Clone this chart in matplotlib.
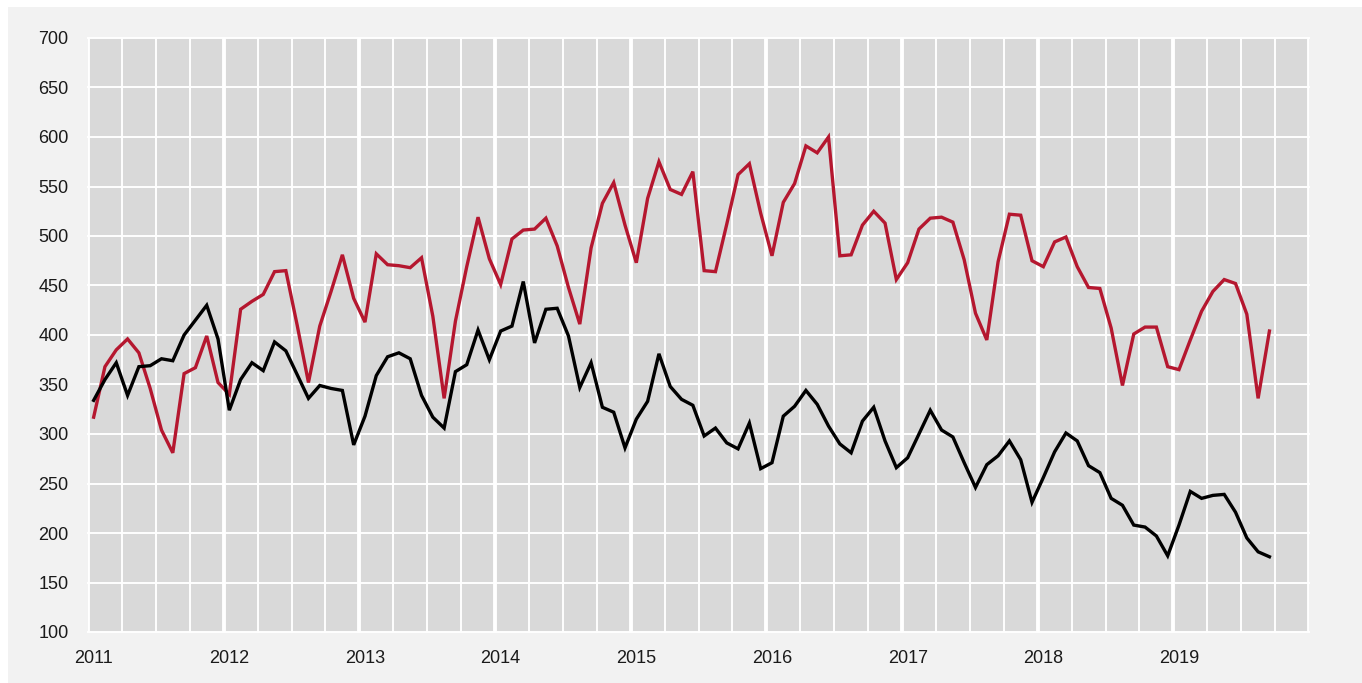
import matplotlib
matplotlib.use("Agg")
import matplotlib.pyplot as plt
from matplotlib.patches import Rectangle
import numpy as np

plt.rcParams['font.family'] = ['Liberation Sans', 'DejaVu Sans']

# Monthly data, Jan 2011 - Sep 2019
years = [2011, 2012, 2013, 2014, 2015, 2016, 2017, 2018, 2019]
red_values = [
    317, 368, 385, 396, 382, 346, 304, 281, 361, 367, 399, 352,   # 2011
    340, 426, 434, 441, 464, 465, 410, 352, 409, 444, 481, 437,   # 2012
    413, 482, 471, 470, 468, 478, 419, 336, 414, 469, 519, 477,   # 2013
    451, 497, 506, 507, 518, 490, 448, 411, 488, 533, 554, 511,   # 2014
    473, 538, 575, 547, 542, 565, 465, 464, 512, 562, 573, 523,   # 2015
    480, 534, 553, 591, 584, 600, 480, 481, 511, 525, 513, 456,   # 2016
    473, 507, 518, 519, 514, 476, 422, 395, 474, 522, 521, 475,   # 2017
    469, 494, 499, 469, 448, 447, 407, 349, 401, 408, 408, 368,   # 2018
    365, 395, 424, 444, 456, 452, 421, 336, 404,                  # 2019
]
black_values = [
    334, 355, 372, 339, 368, 369, 376, 374, 400, 415, 430, 396,   # 2011
    324, 355, 372, 364, 393, 384, 360, 336, 349, 346, 344, 289,   # 2012
    318, 359, 378, 382, 376, 339, 317, 306, 363, 370, 405, 375,   # 2013
    404, 409, 454, 392, 426, 427, 399, 347, 372, 327, 322, 286,   # 2014
    315, 333, 381, 348, 335, 329, 298, 306, 291, 285, 311, 265,   # 2015
    271, 318, 328, 344, 330, 308, 290, 281, 313, 327, 293, 266,   # 2016
    276, 300, 324, 304, 297, 271, 246, 269, 278, 293, 274, 231,   # 2017
    256, 282, 301, 293, 268, 261, 235, 228, 208, 206, 197, 177,   # 2018
    208, 242, 235, 238, 239, 221, 195, 181, 176,                  # 2019
]
y_ticks = [100, 150, 200, 250, 300, 350, 400, 450, 500, 550, 600, 650, 700]

W, H = 1362, 683
fig = plt.figure(figsize=(W / 100, H / 100), dpi=100, facecolor='white')
fig.patches.append(Rectangle((8 / W, 0), 1 - 8 / W, 676 / H, transform=fig.transFigure,
                             facecolor='#f2f2f2', edgecolor='none', zorder=-10))

ax = fig.add_axes([88 / W, (H - 632) / H, (1309 - 88) / W, (632 - 38) / H])
ax.set_facecolor('#d9d9d9')

n_months = len(years) * 12
x_red = np.arange(len(red_values)) + 0.5
x_black = np.arange(len(black_values)) + 0.5

# grid
for q in range(0, n_months + 1, 3):
    lw = 2.8 if q % 12 == 0 else 1.4
    ax.axvline(q, color='white', lw=lw, zorder=1)
for yv in y_ticks:
    ax.axhline(yv, color='white', lw=1.4, zorder=1, clip_on=False)

ax.plot(x_red, red_values, color='#b5172f', lw=2.4, zorder=3, solid_joinstyle='miter')
ax.plot(x_black, black_values, color='#000000', lw=2.4, zorder=3, solid_joinstyle='miter')

ax.set_xlim(0, n_months)
ax.set_ylim(100, 700)
ax.set_yticks(y_ticks)
ax.set_yticklabels([str(v) for v in y_ticks])
ax.set_xticks([i * 12 + 0.5 for i in range(len(years))])
ax.set_xticklabels([str(y) for y in years])
ax.tick_params(axis='both', length=0, labelsize=13, colors='#1a1a1a')
ax.tick_params(axis='y', pad=14)
ax.tick_params(axis='x', pad=13)
for s in ax.spines.values():
    s.set_visible(False)

fig.savefig('out.png', dpi=100, facecolor=fig.get_facecolor())
